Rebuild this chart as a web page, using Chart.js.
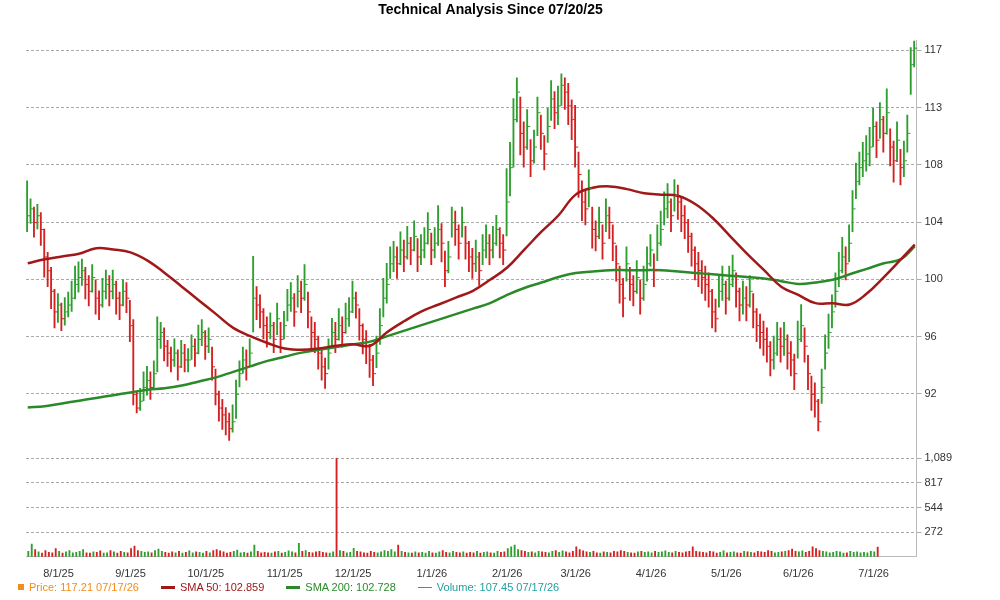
<!DOCTYPE html>
<html><head><meta charset="utf-8">
<script src="https://cdn.jsdelivr.net/npm/chart.js@4"></script>
<style>
body{margin:0;background:#fff;font-family:"Liberation Sans",Arial,sans-serif;}
#wrap{position:relative;width:1000px;height:600px;}
#legend{position:absolute;left:18px;top:581px;font-size:11px;display:flex;gap:0;}
#legend span{display:inline-flex;align-items:center;margin-right:22px;}
.sw{display:inline-block;margin-right:5px;}
</style></head><body>
<div id="wrap"><canvas id="c" width="1000" height="584"></canvas>
<div id="legend">
<span style="color:#f28c1a"><i class="sw" style="width:6px;height:6px;background:#f28c1a"></i>Price: 117.21 07/17/26</span>
<span style="color:#a01818"><i class="sw" style="width:14px;height:3px;background:#a01818"></i>SMA 50: 102.859</span>
<span style="color:#2a8a2a"><i class="sw" style="width:14px;height:3px;background:#2a8a2a"></i>SMA 200: 102.728</span>
<span style="color:#20a0a0"><i class="sw" style="width:14px;height:1px;background:#20a0a0"></i>Volume: 107.45 07/17/26</span>
</div></div>
<script>
const close=[105,105.5,104.5,105,104,102,101,99.5,98,98.5,97.5,98,98.5,99,100,100.5,101,100,99.5,100.5,99,98.5,99.5,100,99.5,100,99,98.5,99.5,99,97,92,91,91.5,92.5,93,92.5,93.5,96,96.5,95.5,95,94.5,95,94,95,94.5,94.5,95.5,95,96,96.5,95.5,96,94,92,91,90.5,90,89.5,90,92,93.5,94.5,94,95,99,98.5,98,97,96.5,97,96,97.5,96,97,98.5,99,98,99.5,99,100,98,96.5,96,95,94,93.5,95,96.5,96,97,96.5,97.5,98,99,98.5,97,96,95.5,94.5,93.5,95,97,99,100,101.5,102,101.5,102.5,102,103,102.5,103.5,102,102.5,103,104,102.5,103,104,103,101,102,104.5,104,103,104.5,103,102,101.5,102,101,102.5,103,102.5,103,104,103,102.5,106,108.5,112,114,111,110,111.5,109,110,112.5,111,109.5,111.5,113.5,112.5,113,114.5,114,113,112,110,108,106,105.5,107,104,103.5,104.5,103,105,104.5,103,101.5,100,99,101.5,100,99.5,100.5,99,100,101.5,102.5,101,103,104,105.5,106,105,106.5,106,105,104.5,103.5,102.5,101.5,101,100.5,100,99.5,98,97.5,99.5,100,99,100,101,99.5,98.5,99,98.5,99.5,98,97,96.5,96,95.5,94.5,95,96,95.5,96,95,94.5,93.5,96,97,95.5,93.5,92,91.5,90,92.5,95,96.5,98,99.5,101,102,101.5,103,105.5,107.5,108.5,109,109.5,110,111.5,110.5,112,111,112.5,110,109,110.5,108.5,109,111,116,117.2];
const high=[107.5,106.2,105.6,105.8,105.2,104,102.3,101.2,99.6,99.3,98.6,99,99.4,100.2,101.3,101.6,101.8,101.2,100.6,101.4,100.3,99.5,100.4,101,100.6,101,100.2,99.4,100.3,100.1,98.8,97.4,92.2,92.4,93.6,94,93.6,94.4,97.6,97.2,96.8,95.9,95.4,96,95.2,95.9,95.6,95.3,96.3,96,97,97.4,96.6,96.8,95.4,93.8,92.2,91.6,91,90.6,91.2,93,94.4,95.4,95.2,96,102,99.8,99.2,98.2,97.6,97.9,97.2,98.6,97.2,98,99.6,100.1,99.3,100.6,100.2,101.4,99.4,97.6,97.2,96.2,95.3,94.6,96,97.5,97.2,98.2,97.6,98.6,99,100.2,99.4,98.2,97.1,96.6,95.6,94.8,96.2,98.2,100.4,101.5,102.7,103.1,102.7,103.8,103.2,104.2,103.4,104.6,103.3,103.6,104.1,105.2,103.7,104.1,105.7,104.4,102.4,103.1,105.6,105.3,104.3,105.6,104.2,103.1,102.6,103.2,102.3,103.6,104.3,103.6,104.2,105,104.1,103.6,108.4,110.3,113.5,115,113.6,111.8,112.7,110.5,111.2,113.6,112.3,110.8,112.8,114.8,114,114.4,115.3,115,114.6,113.4,113,109.6,107.5,106.8,108.3,105.6,104.6,105.6,104.3,106.2,105.6,104.3,102.8,101.3,100.4,102.7,101.2,100.6,101.7,100.3,101.3,102.7,103.6,102.2,104.3,105.3,106.7,107.3,106.2,107.6,107.2,106.3,105.7,104.7,103.7,102.7,102.3,101.7,101.3,100.8,99.6,98.9,100.7,101.3,100.2,101.3,102.1,100.8,99.7,100.2,99.8,100.6,99.3,98.2,97.8,97.3,96.8,95.8,96.2,97.2,96.8,97.2,96.3,95.8,94.9,97.3,98.5,96.8,94.8,93.3,92.8,91.6,93.8,96.3,97.8,99.2,100.8,102.3,103.4,102.7,104.3,106.8,108.8,109.6,110.3,110.8,111.4,112.8,111.8,113.2,112.2,114.2,111.3,110.4,111.8,109.8,110.4,112.3,117.2,117.8];
const low=[103.8,104.4,103.4,104,102.8,100.5,99.8,98.2,96.8,97.2,96.6,97,97.6,98,98.9,99.4,99.9,98.9,98.4,99.4,97.8,97.4,98.3,98.9,98.4,98.9,97.8,97.4,98.4,97.9,95.8,91.2,90.6,90.8,91.5,91.9,91.6,92.4,93.6,95.3,94.4,94,93.6,94,93,93.9,93.6,93.6,94.5,94,94.9,95.5,94.5,95,93,91.2,90,89.4,89,88.6,89.2,90.2,92.5,93.5,93,94,96.5,97.4,96.8,96,95.4,96,95,96.3,95,96,97.3,98,96.9,98.3,97.9,98.8,96.8,95.3,95,93.8,93,92.4,93.8,95.4,95,95.9,95.4,96.4,96.9,97.9,97.5,95.9,94.9,94.2,93.2,92.6,93.9,95.6,97.6,98.6,100.4,100.9,100.4,101.4,100.9,101.8,101.4,102.4,100.9,101.4,101.9,102.9,101.4,101.9,102.8,101.6,99.8,100.8,103.4,102.8,101.8,103.4,101.8,100.9,100.4,100.9,99.9,101.4,101.9,101.4,101.9,102.8,101.9,101.4,103.5,106.4,108.5,111.8,109.4,108.5,109.8,107.8,108.8,110.8,109.8,108.3,110.3,111.9,111.3,111.6,113,112.7,111.6,110.5,108.5,106.3,104.6,104.3,105.6,102.6,102.4,103.3,101.8,103.8,103.3,101.7,100.2,98.6,97.6,100.2,98.8,98.4,99.3,97.8,98.8,100.2,101.3,99.8,101.7,102.8,104.3,104.8,103.8,105.3,104.7,103.8,103.3,102.3,101.3,100.3,99.8,99.3,98.8,98.3,96.8,96.5,98.3,98.8,97.8,98.8,99.8,98.3,97.3,97.8,97.3,98.3,96.8,95.8,95.3,94.8,94.3,93.3,93.8,94.8,94.3,94.8,93.8,93.3,92.3,94.6,95.8,94.3,92.3,90.8,90.3,89.3,91.3,93.8,95.3,96.8,98.3,99.8,100.8,100.3,101.6,103.8,106.2,107.2,107.8,108.2,108.6,110,109.2,110.6,109.6,110.9,108.6,107.4,108.9,107.2,107.8,109.6,113.8,115.8];
const volume=[60,140,80,55,40,70,50,45,90,60,40,55,70,45,50,60,80,45,40,55,50,65,40,45,70,55,40,60,50,45,90,120,70,60,50,55,45,70,85,60,50,40,55,45,60,40,50,65,45,55,50,40,60,45,70,80,65,55,40,50,60,75,45,50,40,55,130,60,45,50,45,40,55,60,40,50,65,55,45,150,60,70,50,45,55,60,50,45,40,55,1089,70,60,45,50,95,60,55,45,40,60,50,45,55,70,60,80,55,130,60,50,45,40,55,45,50,40,60,45,40,55,70,50,45,60,50,45,55,40,50,45,60,40,50,55,45,40,60,50,55,90,110,130,80,70,60,50,55,45,60,55,50,45,60,70,50,65,55,45,60,110,80,65,55,50,60,45,40,55,50,45,60,55,70,60,50,45,40,55,60,50,55,45,60,50,55,65,50,45,60,50,45,55,60,110,60,55,50,45,60,55,40,50,65,45,50,55,45,40,60,55,50,45,60,55,50,70,60,45,50,55,60,70,85,60,55,65,50,60,110,90,70,60,55,45,50,60,55,40,45,60,50,55,45,50,45,60,55,107.45];
const sma50=[101.5,101.8,102,102.2,102.6,102.5,102.3,101.7,100.8,99.8,98.8,97.8,96.8,96.2,95.7,95.3,95.2,95.3,95.5,95.6,95.5,96.5,97.3,98,98.5,99,99.5,100.3,101.2,102.5,103.8,105,106.5,107,107.1,106.9,106.6,106.5,106.4,105.8,104.8,103.5,102.2,101,99.8,99.2,98.6,98.6,98.5,99.3,100.5,101.8,102.86];
const sma200=[91,91.1,91.3,91.5,91.7,91.9,92.1,92.3,92.4,92.6,92.9,93.2,93.6,94,94.4,94.7,95,95.2,95.4,95.6,95.8,96.2,96.6,97,97.4,97.8,98.2,98.6,99.2,99.7,100.1,100.5,100.8,100.9,101,101,101,101,100.9,100.8,100.7,100.6,100.5,100.4,100.2,100,100.1,100.3,100.7,101.1,101.5,101.8,102.73];
const priceTicks=[92,96.1667,100.3333,104.5,108.6667,112.8333,117];
const priceTickLabels=["92","96","100","104","108","113","117"];
const volTicks=[272,544,817,1089];
const volTickLabels=["272","544","817","1,089"];

const dates=[];const dt=new Date(2025,6,21);
while(dates.length<close.length){const d=dt.getDay();if(d>0&&d<6)dates.push((dt.getMonth()+1)+'/'+dt.getDate()+'/'+String(dt.getFullYear()).slice(2));dt.setDate(dt.getDate()+1);}
const up=close.map((c,i)=>i===0||c>=close[i-1]);
const GREEN='#2e9e2e',RED='#d42020';
const col=up.map(u=>u?GREEN:RED);
const smaIdx=sma50.map((_,k)=>Math.min(k*5,close.length-1));

const tickPlugin={id:'tk',afterDatasetsDraw(ch){const x=ch.scales.x,y=ch.scales.y,c=ch.ctx;c.save();c.lineWidth=1;
close.forEach((v,i)=>{const px=x.getPixelForValue(i),py=y.getPixelForValue(v);c.strokeStyle=col[i];c.beginPath();c.moveTo(px,py+0.5);c.lineTo(px+2.5,py+0.5);c.stroke();});c.restore();}};
const monthFirst=new Set();let lastM='';dates.forEach((d,i)=>{const m=d.split('/')[0];if(m!==lastM){if(i>0)monthFirst.add(i);lastM=m;}});

new Chart(document.getElementById('c'),{
 data:{labels:dates,datasets:[
  {type:'line',label:'SMA 50',data:smaIdx.map((i,k)=>({x:dates[i],y:sma50[k]})),yAxisID:'y',borderColor:'#a01818',borderWidth:2.5,pointRadius:0,tension:0.4,order:1},
  {type:'line',label:'SMA 200',data:smaIdx.map((i,k)=>({x:dates[i],y:sma200[k]})),yAxisID:'y',borderColor:'#2a8a2a',borderWidth:2.5,pointRadius:0,tension:0.4,order:2},
  {type:'bar',label:'Price',data:low.map((l,i)=>[l,high[i]]),yAxisID:'y',backgroundColor:col,barThickness:1.2,order:3},
  {type:'bar',label:'Volume',data:volume,yAxisID:'y2',backgroundColor:col,barThickness:1.2,order:4}
 ]},
 options:{responsive:false,animation:false,
  layout:{padding:{left:26,right:45,top:0,bottom:0}},
  plugins:{legend:{display:false},tooltip:{enabled:false},
   title:{display:true,text:'Technical Analysis Since 07/20/25',color:'#000',font:{family:'Liberation Sans',size:14,weight:'bold'},padding:{top:2,bottom:22}}},
  scales:{
   x:{offset:true,grid:{display:false},border:{color:'#bbb'},ticks:{autoSkip:false,maxRotation:0,color:'#333',font:{size:11},callback:(v,i)=>monthFirst.has(i)?dates[i].replace(/\/\d+\//,'/1/'):''}},
   y:{position:'right',stack:'s',stackWeight:4.1,min:87.5,max:117.7,border:{color:'#bbb',dash:[3,2]},
      afterBuildTicks:a=>{a.ticks=priceTicks.map(v=>({value:v}));},
      ticks:{color:'#333',font:{size:11},callback:(v)=>priceTickLabels[priceTicks.findIndex(t=>Math.abs(t-v)<0.01)]},
      grid:{color:'#aaa',tickLength:5}},
   y2:{position:'right',stack:'s',stackWeight:1,min:0,max:1120,border:{color:'#bbb',dash:[3,2]},
      afterBuildTicks:a=>{a.ticks=volTicks.map(v=>({value:v}));},
      ticks:{color:'#333',font:{size:11},autoSkip:false,callback:(v)=>volTickLabels[volTicks.indexOf(v)]},
      grid:{color:'#aaa',tickLength:5}}
  }},
 plugins:[tickPlugin]
});
</script></body></html>
